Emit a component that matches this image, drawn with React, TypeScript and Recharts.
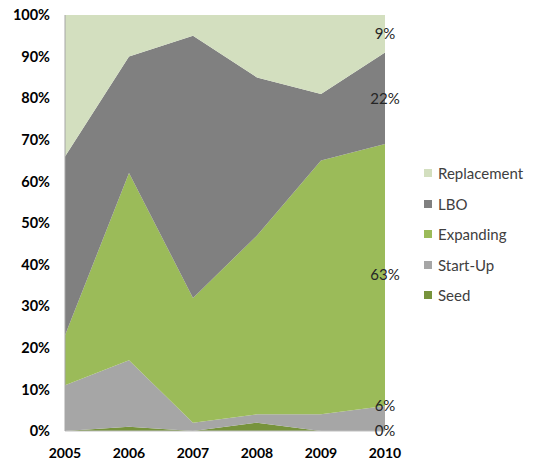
import { AreaChart, Area, XAxis, YAxis, ReferenceDot } from 'recharts'

// Investment stages, share of total per year (%)
const YEARS = ['2005', '2006', '2007', '2008', '2009', '2010']
const SEED = [0, 1, 0, 2, 0, 0]
const START_UP = [11, 16, 2, 2, 4, 6]
const EXPANDING = [12, 45, 30, 43, 61, 63]
const LBO = [43, 28, 63, 38, 16, 22]
const REPLACEMENT = [34, 10, 5, 15, 19, 9]
const Y_TICKS = [0, 10, 20, 30, 40, 50, 60, 70, 80, 90, 100]

const SERIES = [
	{ key: 'seed', name: 'Seed', values: SEED, color: '#77933c' },
	{ key: 'startUp', name: 'Start-Up', values: START_UP, color: '#a6a6a6' },
	{ key: 'expanding', name: 'Expanding', values: EXPANDING, color: '#9bbb59' },
	{ key: 'lbo', name: 'LBO', values: LBO, color: '#808080' },
	{ key: 'replacement', name: 'Replacement', values: REPLACEMENT, color: '#d3dfbf' },
]

const data = YEARS.map((year, i) => {
	const row: Record<string, string | number> = { year }
	SERIES.forEach((s) => {
		row[s.key] = s.values[i]
	})
	return row
})

// end-of-series labels on the last year: small bands sit at their top edge
const last = YEARS.length - 1
let running = 0
const endLabels = SERIES.map((s) => {
	const v = s.values[last]
	const base = running
	running += v
	return { key: s.key, text: `${v}%`, y: v < 8 ? base + v : base + v / 2 }
})

const FONT = 'Lato, "Liberation Sans", sans-serif'

function LegendBox() {
	return (
		<div
			style={{
				position: 'absolute',
				left: 424,
				top: 158,
				fontFamily: FONT,
				fontSize: 15,
				color: '#404040',
			}}
		>
			{[...SERIES].reverse().map((s) => (
				<div key={s.key} style={{ display: 'flex', alignItems: 'center', height: 30.5 }}>
					<span style={{ width: 8, height: 8, background: s.color, marginRight: 6 }} />
					<span>{s.name}</span>
				</div>
			))}
		</div>
	)
}

export default function App() {
	return (
		<div style={{ position: 'absolute', left: 0, top: 0, width: 533, height: 461, background: '#fff' }}>
			<AreaChart
				width={533}
				height={461}
				data={data}
				margin={{ top: 15, right: 148, bottom: 0, left: 0 }}
			>
				<XAxis
					dataKey="year"
					height={30}
					tickLine={false}
					axisLine={{ stroke: '#bfbfbf' }}
					tick={{ fontFamily: FONT, fontSize: 14, fontWeight: 700, fill: '#000' }}
					tickMargin={11}
				/>
				<YAxis
					width={65}
					domain={[0, 100]}
					ticks={Y_TICKS}
					tickFormatter={(v) => `${v}%`}
					tickLine={false}
					axisLine={{ stroke: '#a6a6a6' }}
					tick={{ fontFamily: FONT, fontSize: 14.5, fontWeight: 700, fill: '#000' }}
					tickMargin={9}
				/>
				{SERIES.map((s) => (
					<Area
						key={s.key}
						type="linear"
						dataKey={s.key}
						name={s.name}
						stackId="1"
						stroke="none"
						fill={s.color}
						fillOpacity={1}
						isAnimationActive={false}
					/>
				))}
				{endLabels.map((l) => (
					<ReferenceDot
						key={l.key}
						x={YEARS[last]}
						y={l.y}
						r={0}
						fill="none"
						stroke="none"
						ifOverflow="visible"
						label={{
							value: l.text,
							position: 'center',
							fontFamily: FONT,
							fontSize: 15,
							fill: '#262626',
						}}
					/>
				))}
			</AreaChart>
			<LegendBox />
		</div>
	)
}
